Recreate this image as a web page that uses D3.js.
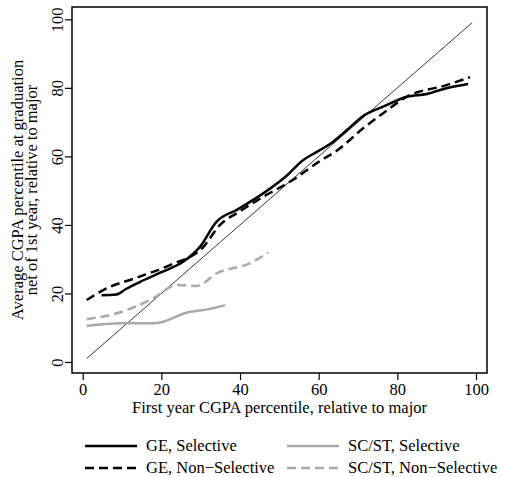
<!DOCTYPE html>
<html>
<head>
<meta charset="utf-8">
<script src="https://cdn.jsdelivr.net/npm/d3@7"></script>
<style>
  body { margin: 0; background: #fff; }
  text { font-family: "Liberation Serif", "Times New Roman", serif; }
</style>
</head>
<body>
<div class="plot"></div>
<script>
// series (x = first year percentile, y = graduation percentile)
var ge_sel_x = [4.8, 8.6, 11, 14.6, 20, 25.6, 29.8, 34, 39.2, 45.9, 52, 56, 58.6, 63.7, 67.5, 71.3, 76.4, 82.4, 87.5, 92.5, 98];
var ge_sel_y = [19.5, 19.7, 21.3, 23.4, 26.2, 29.3, 33.6, 40.9, 44.4, 49.2, 54.5, 58.9, 60.7, 64.3, 68, 71.8, 74.5, 77.4, 78.2, 79.9, 81.1];

var ge_non_x = [1, 6.1, 13.7, 22.2, 30.7, 34.9, 40, 45.9, 53.5, 60, 65, 71.3, 76.4, 82.4, 92.5, 98.5];
var ge_non_y = [18.1, 21.5, 24.6, 28.3, 33.6, 40, 44, 48.2, 53.2, 58.4, 62, 68.2, 72.6, 77.4, 80.8, 83.1];

var sc_sel_x = [1, 9.5, 18.4, 26.8, 32.4, 36.2];
var sc_sel_y = [10.5, 11.3, 11.3, 14.5, 15.5, 16.6];

var sc_non_x = [1, 9.5, 18, 23.9, 29, 34.1, 42.5, 47.2];
var sc_non_y = [12.5, 14.5, 18.6, 22.5, 22.2, 25.9, 28.8, 31.9];

var ticks = [0, 20, 40, 60, 80, 100];
var legend_labels = ["GE, Selective", "SC/ST, Selective", "GE, Non\u2212Selective", "SC/ST, Non\u2212Selective"];

var width = 506, height = 477;
var box = {left: 72, top: 7, right: 487, bottom: 373};
var font_size = "16.5px";

var svg = d3.select(".plot").append("svg")
    .attr("width", width)
    .attr("height", height);

var x = d3.scaleLinear().domain([0, 100]).range([82.7, 476]);
var y = d3.scaleLinear().domain([0, 100]).range([362, 19.3]);

// plot frame
svg.append("rect")
  .attr("x", box.left)
  .attr("y", box.top)
  .attr("width", box.right - box.left)
  .attr("height", box.bottom - box.top)
  .attr("fill", "none")
  .attr("stroke", "#000")
  .attr("stroke-width", 1.5);

// axes
var xAxis = svg.append("g")
  .attr("transform", "translate(0," + box.bottom + ")")
  .call(d3.axisBottom(x).tickValues(ticks).tickSize(7).tickPadding(3).tickSizeOuter(0));
xAxis.select(".domain").remove();
xAxis.selectAll("line").attr("stroke-width", 1.2);
xAxis.selectAll("text").style("font-size", font_size).attr("fill", "#000");

var yAxis = svg.append("g")
  .attr("transform", "translate(" + box.left + ",0)")
  .call(d3.axisLeft(y).tickValues(ticks).tickSize(7).tickSizeOuter(0));
yAxis.select(".domain").remove();
yAxis.selectAll("line").attr("stroke-width", 1.2);
yAxis.selectAll("text")
  .attr("x", null).attr("dy", null)
  .attr("text-anchor", "middle")
  .attr("transform", "translate(-9,0) rotate(-90)")
  .attr("y", 0)
  .style("font-size", font_size)
  .attr("fill", "#000");

// axis titles
svg.append("text")
  .attr("x", (box.left + box.right) / 2)
  .attr("y", 413)
  .attr("text-anchor", "middle")
  .style("font-size", font_size)
  .text("First year CGPA percentile, relative to major");

var ymid = (box.top + box.bottom) / 2;
svg.append("text")
  .attr("transform", "translate(23," + ymid + ") rotate(-90)")
  .attr("text-anchor", "middle")
  .style("font-size", font_size)
  .text("Average CGPA percentile at graduation");
svg.append("text")
  .attr("transform", "translate(37," + ymid + ") rotate(-90)")
  .attr("text-anchor", "middle")
  .style("font-size", font_size)
  .text("net of 1st year, relative to major");

// 45 degree line
var diag = [1, 99];
svg.append("line")
  .attr("x1", x(diag[0])).attr("y1", y(diag[0]))
  .attr("x2", x(diag[1])).attr("y2", y(diag[1]))
  .attr("stroke", "#000")
  .attr("stroke-width", 0.8);

var line = d3.line()
  .x(function(d) { return x(d[0]); })
  .y(function(d) { return y(d[1]); })
  .curve(d3.curveMonotoneX);

var series = [
  {xs: sc_sel_x, ys: sc_sel_y, color: "#a9a9a9", dash: null},
  {xs: sc_non_x, ys: sc_non_y, color: "#a9a9a9", dash: "9,5"},
  {xs: ge_non_x, ys: ge_non_y, color: "#000", dash: "9,5"},
  {xs: ge_sel_x, ys: ge_sel_y, color: "#000", dash: null}
];

series.forEach(function(s) {
  svg.append("path")
    .datum(d3.zip(s.xs, s.ys))
    .attr("d", line)
    .attr("fill", "none")
    .attr("stroke", s.color)
    .attr("stroke-width", 2.5)
    .attr("stroke-dasharray", s.dash);
});

// legend
var legends = [
  {label: legend_labels[0], color: "#000", dash: null, lx: 85, ly: 446},
  {label: legend_labels[1], color: "#a9a9a9", dash: null, lx: 287, ly: 446},
  {label: legend_labels[2], color: "#000", dash: "9,5", lx: 85, ly: 468},
  {label: legend_labels[3], color: "#a9a9a9", dash: "9,5", lx: 287, ly: 468}
];

var lg = svg.append("g").attr("class", "legend");
lg.selectAll("line")
  .data(legends)
  .enter()
  .append("line")
  .attr("x1", function(d) { return d.lx; })
  .attr("x2", function(d) { return d.lx + 52; })
  .attr("y1", function(d) { return d.ly; })
  .attr("y2", function(d) { return d.ly; })
  .attr("stroke", function(d) { return d.color; })
  .attr("stroke-width", 2.5)
  .attr("stroke-dasharray", function(d) { return d.dash; });

lg.selectAll("text")
  .data(legends)
  .enter()
  .append("text")
  .attr("x", function(d) { return d.lx + 61; })
  .attr("y", function(d) { return d.ly + 5; })
  .style("font-size", font_size)
  .text(function(d) { return d.label; });
</script>
</body>
</html>
